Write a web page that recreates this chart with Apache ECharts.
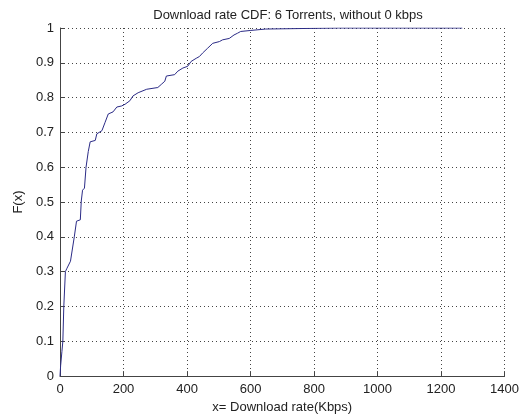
<!DOCTYPE html>
<html>
<head>
<meta charset="utf-8">
<script src="https://cdn.jsdelivr.net/npm/echarts@6/dist/echarts.min.js"></script>
<style>
html,body{margin:0;padding:0;background:#fff;}
#chart{width:522px;height:419px;}
</style>
</head>
<body>
<div id="chart"></div>
<script>
// Download rate values (Kbps) and cumulative probability F(x)
var rateKbps = [0, 2, 6, 9, 12, 17, 22, 33, 45, 52, 64, 67, 71, 77, 82, 89, 95, 111, 116, 132, 142, 152, 167, 179, 194, 205, 220, 230, 246, 273, 308, 319, 330, 335, 361, 371, 387, 402, 413, 429, 439, 449, 465, 481, 502, 512, 533, 548, 559, 569, 601, 648, 877, 1267];
var cdfValue = [0, 0.03, 0.07, 0.1, 0.2, 0.3, 0.31, 0.33, 0.40, 0.445, 0.449, 0.503, 0.534, 0.54, 0.60, 0.645, 0.673, 0.677, 0.696, 0.705, 0.729, 0.753, 0.759, 0.773, 0.776, 0.781, 0.791, 0.805, 0.814, 0.824, 0.829, 0.838, 0.847, 0.862, 0.866, 0.876, 0.885, 0.890, 0.904, 0.913, 0.918, 0.928, 0.942, 0.956, 0.961, 0.966, 0.970, 0.980, 0.985, 0.990, 0.993, 0.997, 1.0, 1.0];
var xTicks = [0, 200, 400, 600, 800, 1000, 1200, 1400];
var yTicks = [0, 0.1, 0.2, 0.3, 0.4, 0.5, 0.6, 0.7, 0.8, 0.9, 1];
var titleText = 'Download rate CDF: 6 Torrents, without 0 kbps';
var xLabel = 'x= Download rate(Kbps)';
var yLabel = 'F(x)';

var points = rateKbps.map(function (x, i) { return [x, cdfValue[i]]; });
var font = 'Liberation Sans, Arial, sans-serif';
var gridLine = { show: true, lineStyle: { color: '#444', width: 1, type: [1, 3] } };

var chart = echarts.init(document.getElementById('chart'));
chart.setOption({
  animation: false,
  backgroundColor: '#fff',
  title: {
    text: titleText, left: 283, top: 4, textAlign: 'center',
    textStyle: { fontFamily: font, fontSize: 13, fontWeight: 'normal', color: '#222' }
  },
  grid: { left: 60, right: 15, top: 28, bottom: 39 },
  xAxis: {
    type: 'value', min: xTicks[0], max: xTicks[xTicks.length - 1], interval: 200,
    name: xLabel, nameLocation: 'middle', nameGap: 22,
    nameTextStyle: { fontFamily: font, fontSize: 13, color: '#222' },
    axisLine: { show: true, onZero: false, lineStyle: { color: '#444', width: 1 } },
    axisTick: { show: true, inside: true, length: 5, lineStyle: { color: '#444' } },
    axisLabel: { fontFamily: font, fontSize: 13, color: '#222', margin: 7,
      formatter: function (v) { return String(v); } },
    splitLine: gridLine
  },
  yAxis: {
    type: 'value', min: yTicks[0], max: yTicks[yTicks.length - 1], interval: 0.1,
    name: yLabel, nameLocation: 'middle', nameGap: 33,
    nameTextStyle: { fontFamily: font, fontSize: 13, color: '#222' },
    axisLine: { show: true, onZero: false, lineStyle: { color: '#444', width: 1 } },
    axisTick: { show: true, inside: true, length: 5, lineStyle: { color: '#444' } },
    axisLabel: { fontFamily: font, fontSize: 13, color: '#222', margin: 6,
      formatter: function (v) { return String(Math.round(v * 10) / 10); } },
    splitLine: gridLine
  },
  series: [{
    type: 'line', data: points, showSymbol: false, symbol: 'none',
    lineStyle: { color: '#2b2b86', width: 1 }
  }]
});
</script>
</body>
</html>
